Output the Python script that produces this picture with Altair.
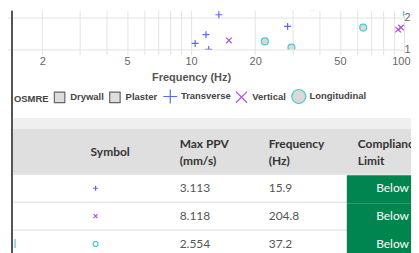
import altair as alt
import pandas as pd

# ---------------- data ----------------
pt_series = ["Transverse"] * 6 + ["Vertical"] * 4 + ["Longitudinal"] * 5
pt_freq = [15.9, 13.5, 11.75, 10.45, 12.1, 28.4,
           22.6, 15.05, 93.8, 96.8,
           37.2, 22.2, 29.6, 64.3, 103.0]
pt_ppv = [2.62, 2.13, 1.38, 1.14, 1.0, 1.65,
          2.65, 1.215, 1.54, 1.61,
          2.554, 1.19, 1.04, 1.61, 2.18]

legend_items = ["OSMRE", "Drywall", "Plaster", "Transverse", "Vertical", "Longitudinal"]
x_ticks = [2, 3, 4, 5, 6, 7, 8, 9, 10, 20, 30, 40, 50, 60, 70, 80, 90, 100]
x_labels = [2, 5, 10, 20, 50, 100]
y_ticks = [1, 2]

tbl_series = ["Transverse", "Vertical", "Longitudinal"]
tbl_ppv = ["3.113", "8.118", "2.554"]
tbl_freq = ["15.9", "204.8", "37.2"]
tbl_limit = ["Below", "Below", "Below"]
hdr_cols = ["symbol", "ppv", "freq", "limit"]
hdr_text = ["Symbol", "Max PPV\n(mm/s)", "Frequency\n(Hz)", "Compliance\nLimit"]

# ---------------- styling ----------------
BLUE, PURPLE, CYAN = "#5a6af0", "#b050e0", "#48c8d4"
GREEN = "#00854f"
GRID = "#e3e3e3"
PLUS = "M-1,0H1M0,-1V1"
CROSS = "M-0.8,-0.8L0.8,0.8M-0.8,0.8L0.8,-0.8"
SQUARE = "M-0.75,-0.75H0.75V0.75H-0.75Z"
EMPTY = "M0,0"

scatter_df = pd.DataFrame({"series": pt_series, "freq": pt_freq, "ppv": pt_ppv})
one = pd.DataFrame({"k": [0]})

shape_scale = alt.Scale(domain=legend_items, range=[EMPTY, SQUARE, SQUARE, PLUS, CROSS, "circle"])
stroke_scale = alt.Scale(domain=legend_items,
                         range=["transparent", "#666666", "#666666", BLUE, PURPLE, CYAN])
fill_scale = alt.Scale(domain=legend_items,
                       range=["transparent", "#dddddd", "#dddddd", "transparent", "transparent", "#d9d9d9"])

leg = alt.Legend(title=None, orient="none", legendX=17.25, legendY=78, direction="horizontal",
                 symbolSize=196, symbolStrokeWidth=1.2, labelOffset=2.75, columnPadding=2.6,
                 labelFont="Liberation Sans", labelFontSize=9.5, labelFontWeight="bold",
                 labelColor="#444444", padding=0)

label_list = "[" + ",".join(str(v) for v in x_labels) + "]"

pts = alt.Chart(scatter_df).mark_point(size=49, strokeWidth=1.2, opacity=1, clip=True).encode(
    x=alt.X("freq:Q", title="Frequency (Hz)",
            scale=alt.Scale(type="log", domain=[1, 100], nice=False),
            axis=alt.Axis(values=x_ticks,
                          labelExpr=f"indexof({label_list}, datum.value) >= 0 ? '' + datum.value : ''",
                          grid=True, gridColor=GRID, domain=False, tickColor=GRID, tickSize=5,
                          labelFont="Liberation Sans", labelFontSize=11, labelColor="#666666",
                          labelPadding=1, labelFlush=True, labelFlushOffset=6,
                          titleFont="Liberation Sans", titleFontSize=11, titleFontWeight="bold",
                          titleColor="#555555", titlePadding=5)),
    y=alt.Y("ppv:Q", title=None,
            scale=alt.Scale(type="log", domain=[1, 2.33], nice=False),
            axis=alt.Axis(orient="right", values=y_ticks, grid=True, gridColor=GRID, domain=False,
                          tickColor="#cccccc", tickSize=0, labelPadding=0,
                          labelFont="Liberation Sans", labelFontSize=11, labelColor="#666666")),
    shape=alt.Shape("series:N", scale=shape_scale, legend=leg),
    stroke=alt.Stroke("series:N", scale=stroke_scale, legend=leg),
    fill=alt.Fill("series:N", scale=fill_scale, legend=leg),
)

frameA = alt.Chart(one).mark_rule(color="#555555", strokeWidth=2).encode(
    x=alt.value(34), y=alt.value(0), y2=alt.value(108))

panelA = alt.layer(pts, frameA).properties(width=428, height=39)

# ---------------- table ----------------
xs = alt.Scale(domain=hdr_cols, range=[102, 460], paddingInner=0, paddingOuter=0)
ys = alt.Scale(domain=[0, 1, 2], range=[56.5, 140.5], paddingInner=0, paddingOuter=0)

rows_df = pd.DataFrame({"row": [0, 1, 2], "series": tbl_series})
cells_df = pd.DataFrame({
    "row": [0, 1, 2, 0, 1, 2],
    "col": ["ppv"] * 3 + ["freq"] * 3,
    "txt": tbl_ppv + tbl_freq,
})
limit_df = pd.DataFrame({"row": [0, 1, 2], "col": ["limit"] * 3, "txt": tbl_limit})
sym_df = pd.DataFrame({"row": [0, 1, 2], "col": ["symbol"] * 3, "series": tbl_series})
hdr_one = pd.DataFrame({"col": [c for c, t in zip(hdr_cols, hdr_text) if "\n" not in t],
                        "txt": [t for t in hdr_text if "\n" not in t]})
hdr_two = pd.DataFrame({"col": [c for c, t in zip(hdr_cols, hdr_text) if "\n" in t],
                        "txt": [t for t in hdr_text if "\n" in t]})

bg_light = alt.Chart(one).mark_rect(color="#efefef").encode(
    x=alt.value(34), x2=alt.value(442), y=alt.value(0), y2=alt.value(11))
bg_head = alt.Chart(one).mark_rect(color="#dfdfdf").encode(
    x=alt.value(34), x2=alt.value(442), y=alt.value(11), y2=alt.value(56))

seps = alt.Chart(rows_df).mark_rule(color="#dddddd", strokeWidth=1).encode(
    y=alt.Y("row:O", scale=ys, bandPosition=0, axis=None),
    x=alt.value(34), x2=alt.value(442))

green = alt.Chart(limit_df).mark_rect(color=GREEN, yOffset=1, y2Offset=-1.5, clip=True).encode(
    x=alt.X("col:N", scale=xs, axis=None),
    y=alt.Y("row:O", scale=ys, axis=None))

below_txt = alt.Chart(limit_df).mark_text(align="center", baseline="middle", dx=46, font="Lato",
                                         fontSize=12, color="white", clip=True).encode(
    x=alt.X("col:N", scale=xs, bandPosition=0, axis=None),
    y=alt.Y("row:O", scale=ys, axis=None),
    text="txt:N")

val_txt = alt.Chart(cells_df).mark_text(align="left", baseline="middle", dx=11, font="Lato",
                                       fontSize=12, color="#555555", clip=True).encode(
    x=alt.X("col:N", scale=xs, bandPosition=0, axis=None),
    y=alt.Y("row:O", scale=ys, axis=None),
    text="txt:N")

name_txt = alt.Chart(rows_df).mark_text(align="left", baseline="middle", font="Lato",
                                        fontSize=12, clip=True).encode(
    x=alt.value(-26),
    y=alt.Y("row:O", scale=ys, axis=None),
    text="series:N",
    color=alt.Color("series:N", scale=alt.Scale(domain=tbl_series, range=[BLUE, PURPLE, CYAN]),
                    legend=None))

sym_pts = alt.Chart(sym_df).mark_point(size=25, strokeWidth=1.2, opacity=1, xOffset=16,
                                       filled=False).encode(
    x=alt.X("col:N", scale=xs, bandPosition=0, axis=None),
    y=alt.Y("row:O", scale=ys, axis=None),
    shape=alt.Shape("series:N", scale=alt.Scale(domain=tbl_series, range=[PLUS, CROSS, "circle"]),
                    legend=None),
    stroke=alt.Stroke("series:N", scale=alt.Scale(domain=tbl_series, range=[BLUE, PURPLE, CYAN]),
                      legend=None))

hdr_style = dict(align="left", baseline="middle", dx=11, lineBreak="\n", lineHeight=17,
                 font="Lato", fontSize=12, fontWeight="bold", color="#333333", clip=True)
hdr_txt1 = alt.Chart(hdr_one).mark_text(**hdr_style).encode(
    x=alt.X("col:N", scale=xs, bandPosition=0, axis=None),
    y=alt.value(34.5),
    text="txt:N")
hdr_txt2 = alt.Chart(hdr_two).mark_text(**hdr_style).encode(
    x=alt.X("col:N", scale=xs, bandPosition=0, axis=None),
    y=alt.value(26),
    text="txt:N")

cover = alt.Chart(one).mark_rect(color="white").encode(
    x=alt.value(0), x2=alt.value(33), y=alt.value(0), y2=alt.value(137))

frameB = alt.Chart(one).mark_rule(color="#555555", strokeWidth=2).encode(
    x=alt.value(34), y=alt.value(0), y2=alt.value(137))

panelB = alt.layer(bg_light, bg_head, seps, green, below_txt, val_txt, name_txt, sym_pts,
                   hdr_txt1, hdr_txt2, cover, frameB).properties(width=442, height=137)

chart = alt.vconcat(panelA, panelB, spacing=69, bounds="flush").resolve_scale(
    shape="independent", stroke="independent", fill="independent", color="independent"
).resolve_legend(
    shape="independent", stroke="independent", fill="independent", color="independent"
).properties(
    padding={"left": -31, "top": 0, "right": -8, "bottom": 0}
).configure_view(stroke="transparent")

chart.save("out.html", embed_options={"renderer": "svg", "actions": False})
